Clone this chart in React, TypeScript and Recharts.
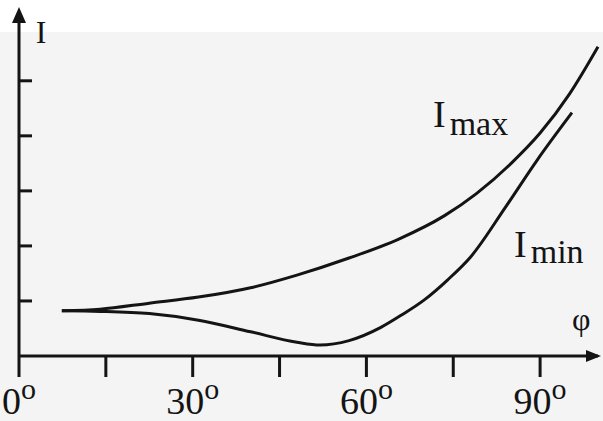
import React from 'react';
import { LineChart, Line, XAxis, YAxis, ReferenceDot } from 'recharts';

// angle phi (degrees) and intensity
const maxPhi = [7.4, 14, 22.5, 31, 40, 48, 57, 65.5, 73.5, 79, 85, 90, 95, 100];
const maxI = [0.82, 0.85, 0.96, 1.07, 1.24, 1.47, 1.78, 2.12, 2.55, 2.95, 3.5, 4.05, 4.75, 5.62];

const minPhi = [7.4, 14, 22.5, 31, 40, 48, 52, 57, 62.5, 66, 70, 74, 78, 84, 89.5, 95.5];
const minI = [0.82, 0.81, 0.77, 0.65, 0.44, 0.25, 0.2, 0.28, 0.52, 0.74, 1.02, 1.38, 1.8, 2.7, 3.56, 4.42];

const xTicks = [0, 15, 30, 45, 60, 75, 90];
const xLabels = [0, 30, 60, 90];
const yTicks = [1, 2, 3, 4, 5];

const imaxData = maxPhi.map((phi, i) => ({ phi, I: maxI[i] }));
const iminData = minPhi.map((phi, i) => ({ phi, I: minI[i] }));

const INK = '#141414';
const FONT = 'Liberation Serif';

const XTick = (props: any) => {
  const { x, y, payload } = props;
  if (!xLabels.includes(payload.value)) return <g />;
  return (
    <text x={x} y={y + 35} textAnchor="middle" fontFamily={FONT} fill={INK}>
      <tspan fontSize={38} fontFamily={FONT}>{payload.value}</tspan>
      <tspan fontSize={30} fontFamily={FONT} dy={-15}>o</tspan>
    </text>
  );
};

// y ticks point into the plot
const YTick = (props: any) => {
  const { x, y } = props;
  return <line x1={x} x2={x + 13} y1={y} y2={y} stroke={INK} strokeWidth={3} />;
};

const label = (body: React.ReactNode, anchor = 'start') => (props: any) => (
  <text x={props.cx} y={props.cy} textAnchor={anchor} fontFamily={FONT} fill={INK}>
    {body}
  </text>
);

export default function App() {
  return (
    <div
      style={{
        position: 'absolute',
        left: 0,
        top: 0,
        width: 603,
        height: 421,
        background: 'linear-gradient(#ffffff 0 32px, #f4f4f4 32px)',
      }}
    >
      <LineChart width={603} height={421} margin={{ top: 12, right: 5, left: 0, bottom: 5 }}>
        <XAxis
          type="number"
          dataKey="phi"
          domain={[0, 100]}
          ticks={xTicks}
          tickSize={21}
          height={60}
          axisLine={{ stroke: INK, strokeWidth: 3 }}
          tickLine={{ stroke: INK, strokeWidth: 3 }}
          tick={<XTick />}
        />
        <YAxis
          type="number"
          dataKey="I"
          domain={[0, 6.25]}
          ticks={yTicks}
          width={19}
          tickSize={0}
          tickMargin={0}
          axisLine={{ stroke: INK, strokeWidth: 3 }}
          tickLine={false}
          tick={<YTick />}
        />
        <Line
          data={imaxData}
          dataKey="I"
          type="monotone"
          stroke={INK}
          strokeWidth={3}
          dot={false}
          isAnimationActive={false}
        />
        <Line
          data={iminData}
          dataKey="I"
          type="monotone"
          stroke={INK}
          strokeWidth={3}
          dot={false}
          isAnimationActive={false}
        />
        {/* arrow heads */}
        <ReferenceDot
          x={100}
          y={0}
          shape={(p: any) => (
            <polygon
              points={`${p.cx + 3},${p.cy} ${p.cx - 12},${p.cy - 6} ${p.cx - 12},${p.cy + 6}`}
              fill={INK}
            />
          )}
        />
        <ReferenceDot
          x={0}
          y={6.25}
          shape={(p: any) => (
            <polygon
              points={`${p.cx},${p.cy - 5} ${p.cx - 7},${p.cy + 11} ${p.cx + 7},${p.cy + 11}`}
              fill={INK}
            />
          )}
        />
        {/* annotations */}
        <ReferenceDot x={3.8} y={5.69} shape={label(<tspan fontSize={32}>I</tspan>, 'middle')} />
        <ReferenceDot
          x={71.5}
          y={4.16}
          shape={label(
            <>
              <tspan fontSize={38}>I</tspan>
              <tspan fontSize={34} dx={4} dy={8}>max</tspan>
            </>
          )}
        />
        <ReferenceDot
          x={85.5}
          y={1.8}
          shape={label(
            <>
              <tspan fontSize={38}>I</tspan>
              <tspan fontSize={34} dx={4} dy={6}>min</tspan>
            </>
          )}
        />
        <ReferenceDot x={97.1} y={0.47} shape={label(<tspan fontSize={32}>φ</tspan>, 'middle')} />
      </LineChart>
    </div>
  );
}
